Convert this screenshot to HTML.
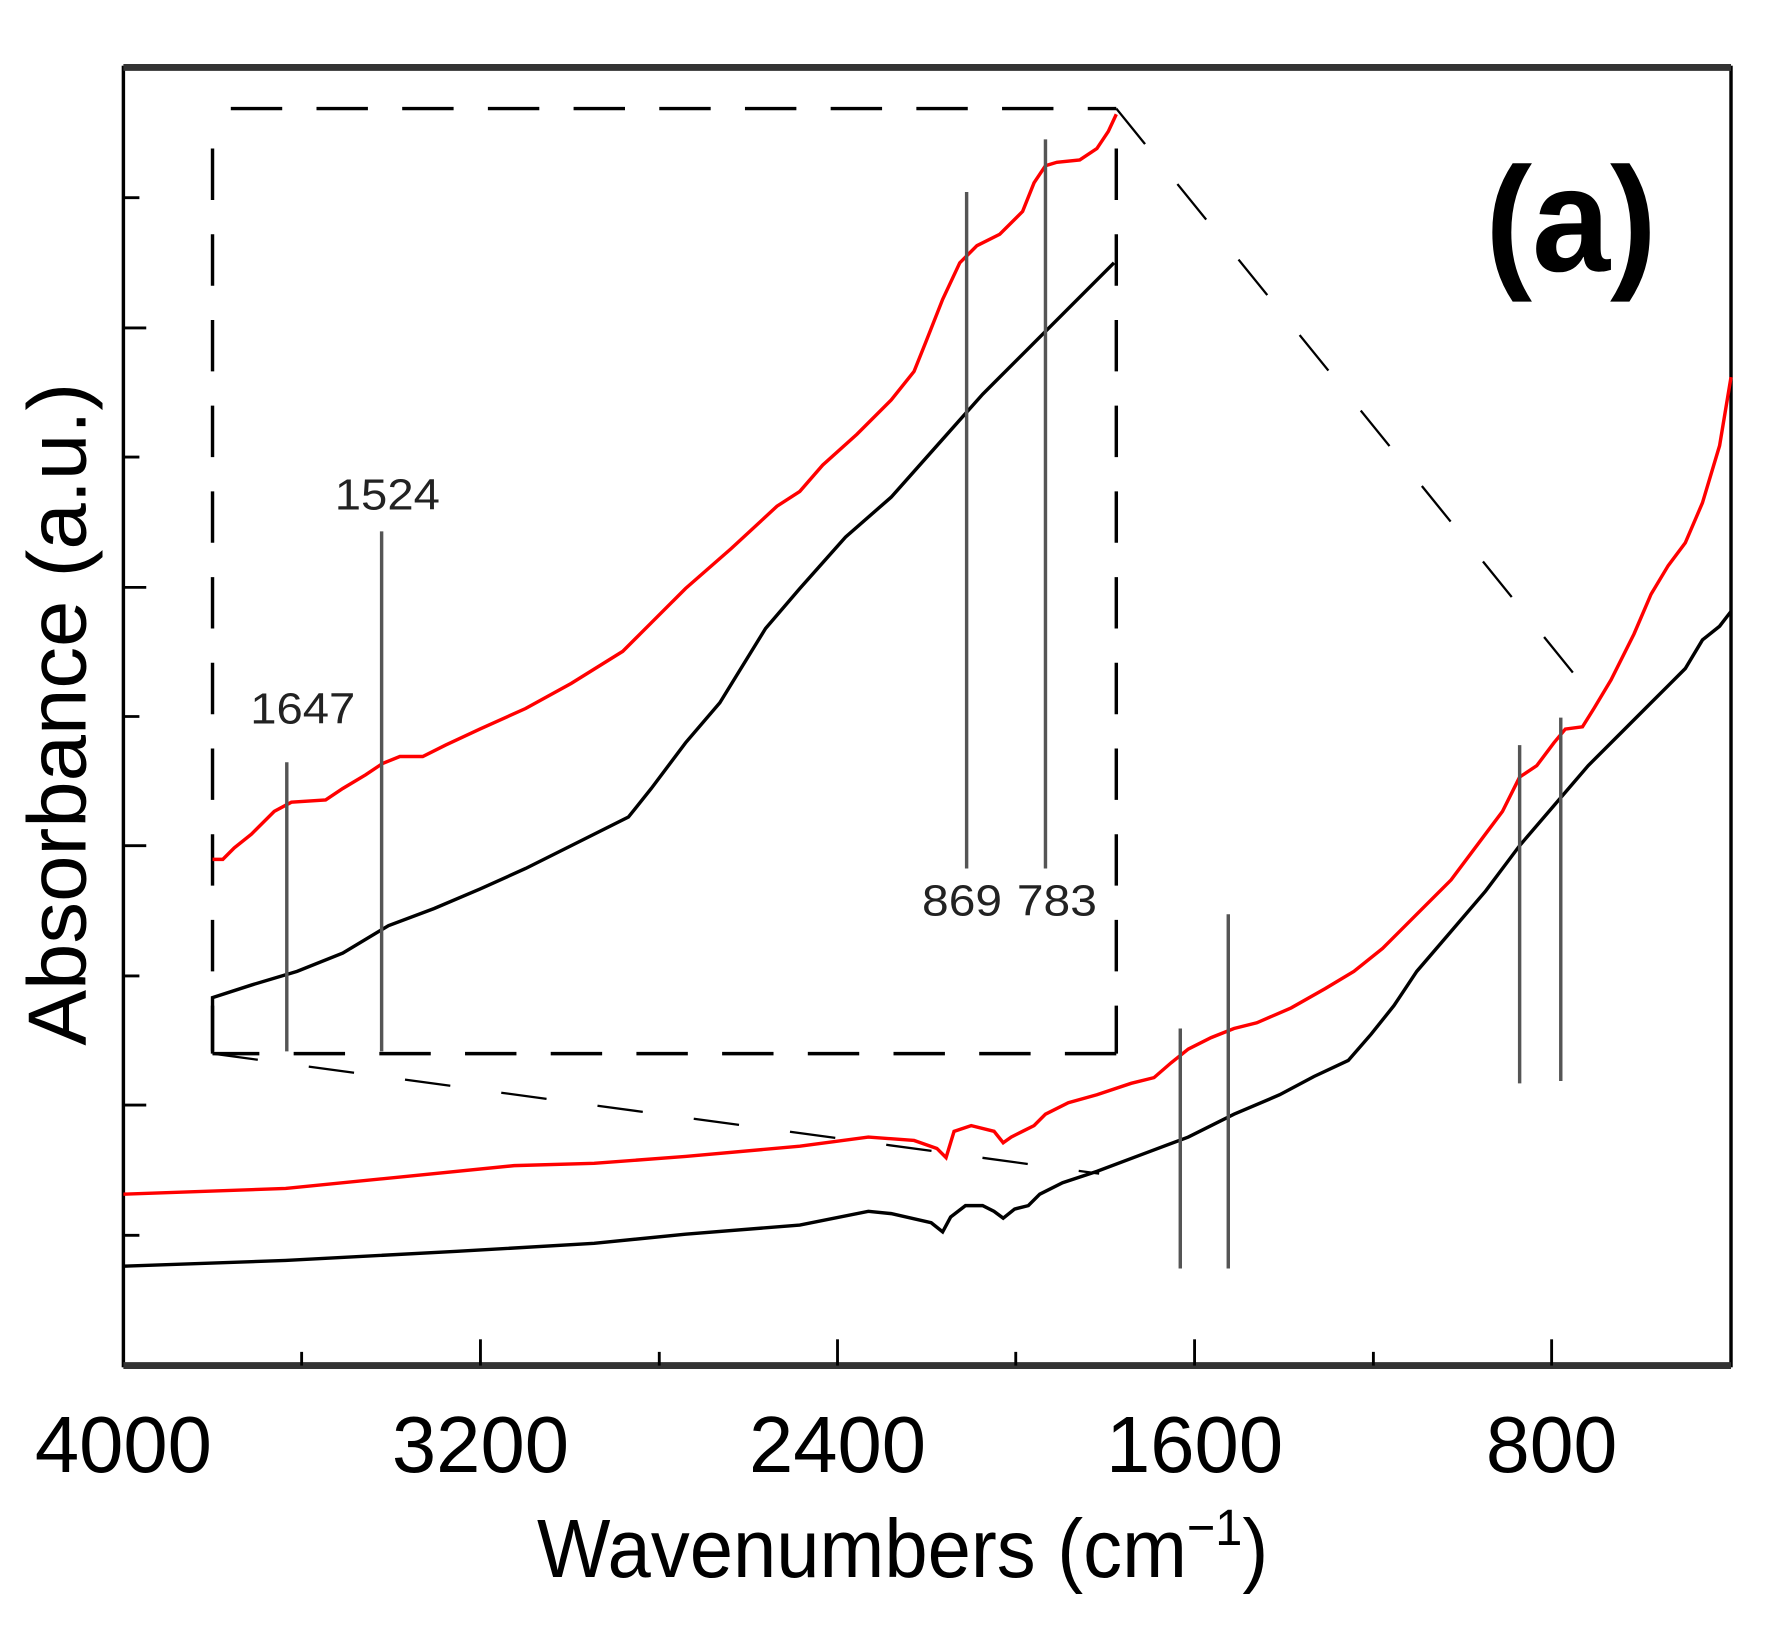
<!DOCTYPE html>
<html><head><style>html,body{margin:0;padding:0;background:#fff;}svg{display:block}</style></head>
<body>
<svg width="1791" height="1633" viewBox="0 0 1567.5 1429" preserveAspectRatio="none" xmlns="http://www.w3.org/2000/svg" font-family="Liberation Sans, sans-serif">
<rect width="1567.5" height="1429" fill="#fff"/>
<!-- axes -->
<rect x="108" y="59" width="1407" height="1136" fill="none" stroke="#000" stroke-width="3"/>
<line x1="108" y1="59" x2="1515" y2="59" stroke="#333" stroke-width="6"/>
<line x1="108" y1="1195" x2="1515" y2="1195" stroke="#333" stroke-width="6"/>
<g stroke="#000" stroke-width="2.5">
<line x1="420.5" y1="1195" x2="420.5" y2="1172"/><line x1="733" y1="1195" x2="733" y2="1172"/>
<line x1="1045.5" y1="1195" x2="1045.5" y2="1172"/><line x1="1358" y1="1195" x2="1358" y2="1172"/>
<line x1="264" y1="1195" x2="264" y2="1183"/><line x1="577" y1="1195" x2="577" y2="1183"/>
<line x1="889" y1="1195" x2="889" y2="1183"/><line x1="1202" y1="1195" x2="1202" y2="1183"/>
<line x1="108" y1="173" x2="122" y2="173"/><line x1="108" y1="287" x2="128" y2="287"/>
<line x1="108" y1="400" x2="122" y2="400"/><line x1="108" y1="514" x2="128" y2="514"/>
<line x1="108" y1="627" x2="122" y2="627"/><line x1="108" y1="740" x2="128" y2="740"/>
<line x1="108" y1="854" x2="122" y2="854"/><line x1="108" y1="967" x2="128" y2="967"/>
<line x1="108" y1="1081" x2="122" y2="1081"/>
</g>
<!-- tick labels -->
<g font-size="70" text-anchor="middle" fill="#000">
<text x="108" y="1288" textLength="155" lengthAdjust="spacingAndGlyphs">4000</text>
<text x="420.5" y="1288" textLength="155" lengthAdjust="spacingAndGlyphs">3200</text>
<text x="733" y="1288" textLength="155" lengthAdjust="spacingAndGlyphs">2400</text>
<text x="1045.5" y="1288" textLength="155" lengthAdjust="spacingAndGlyphs">1600</text>
<text x="1358" y="1288" textLength="115" lengthAdjust="spacingAndGlyphs">800</text>
</g>
<text x="470" y="1380" font-size="72" textLength="640" lengthAdjust="spacingAndGlyphs">Wavenumbers (cm<tspan font-size="45" dy="-28">−1</tspan><tspan dy="28">)</tspan></text>
<text transform="translate(75,625) rotate(-90)" font-size="72" text-anchor="middle" textLength="580" lengthAdjust="spacingAndGlyphs">Absorbance (a.u.)</text>
<text x="1375" y="237" font-size="130" font-weight="bold" text-anchor="middle" textLength="150" lengthAdjust="spacingAndGlyphs">(a)</text>
<!-- dashed inset box & projections -->
<g stroke="#000" stroke-width="3" fill="none" stroke-dasharray="45,30">
<polyline points="202,95 977,95"/>
<line x1="186" y1="130" x2="186" y2="920"/>
<line x1="977" y1="130" x2="977" y2="922"/>
<line x1="977" y1="922" x2="186" y2="922"/>
</g>
<g stroke="#000" stroke-width="2" fill="none" stroke-dasharray="40,45">
<line x1="977" y1="95" x2="1398" y2="615"/>
<line x1="186" y1="922" x2="962" y2="1027"/>
</g>
<!-- main curves -->
<polyline fill="none" stroke="#f00" stroke-width="3" points="108,1045 250,1040 350,1030 450,1020 520,1018 600,1012 700,1003 760,995 800,998 820,1005 828,1013 835,990 850,985 870,990 878,1000 885,995 895,990 905,985 915,975 935,965 960,958 990,948 1010,943 1025,930 1040,918 1060,908 1080,900 1100,895 1130,882 1160,865 1185,850 1210,830 1240,800 1270,770 1300,730 1315,710 1330,680 1345,670 1360,650 1370,638 1385,636 1395,620 1410,595 1430,555 1445,520 1460,495 1475,475 1490,440 1505,390 1515,330"/>
<polyline fill="none" stroke="#000" stroke-width="3" points="108,1108 250,1103 400,1095 520,1088 600,1080 700,1072 760,1060 780,1062 815,1070 825,1078 832,1065 845,1055 860,1055 870,1060 878,1066 888,1058 900,1055 910,1045 930,1035 960,1025 1000,1010 1040,995 1080,975 1120,958 1150,942 1180,928 1200,905 1220,880 1240,850 1270,815 1300,780 1330,740 1360,705 1390,670 1420,640 1440,620 1460,600 1475,585 1490,560 1505,548 1515,535"/>
<g stroke="#555" stroke-width="3">
<line x1="1033" y1="900" x2="1033" y2="1110"/><line x1="1075" y1="800" x2="1075" y2="1110"/>
<line x1="1330" y1="652" x2="1330" y2="948"/><line x1="1366" y1="628" x2="1366" y2="946"/>
</g>
<!-- inset curves -->
<polyline fill="none" stroke="#f00" stroke-width="3" points="186,752 195,752 205,742 220,730 240,710 255,702 285,700 300,690 320,678 335,668 350,662 370,662 390,652 420,638 460,620 500,598 545,570 570,545 600,515 640,480 680,443 700,430 720,407 750,380 780,350 800,325 810,300 825,262 840,230 855,215 875,205 895,185 905,160 915,145 925,142 945,140 960,130 970,115 977,100"/>
<polyline fill="none" stroke="#000" stroke-width="3" points="186,922 186,873 220,862 260,850 300,834 340,810 380,795 420,778 460,760 500,740 550,715 570,690 600,650 630,615 670,550 700,515 740,470 780,435 820,390 860,345 900,305 940,265 975,230"/>
<g stroke="#555" stroke-width="3">
<line x1="251" y1="667" x2="251" y2="920"/><line x1="334" y1="465" x2="334" y2="920"/>
<line x1="846" y1="168" x2="846" y2="760"/><line x1="915" y1="122" x2="915" y2="760"/>
</g>
<g font-size="38" text-anchor="middle" fill="#222">
<text x="265" y="633" textLength="92" lengthAdjust="spacingAndGlyphs">1647</text>
<text x="339" y="446" textLength="92" lengthAdjust="spacingAndGlyphs">1524</text>
<text x="842" y="801" textLength="70" lengthAdjust="spacingAndGlyphs">869</text>
<text x="925" y="801" textLength="70" lengthAdjust="spacingAndGlyphs">783</text>
</g>
</svg>
</body></html>
